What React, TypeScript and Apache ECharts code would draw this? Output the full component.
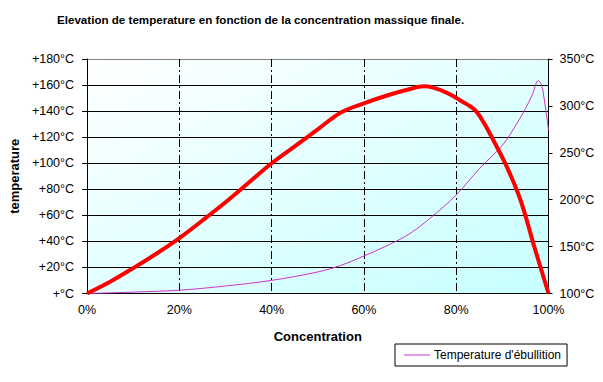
import React, { useEffect, useRef } from "react";
import * as echarts from "echarts";

const titleText = "Elevation de temperature en fonction de la concentration massique finale.";
const concRise = [0, 5, 10, 15, 20, 25, 30, 35, 40, 45, 50, 55, 60, 65, 70, 73, 75, 78, 81, 84, 86, 88, 91, 94, 97, 100];
const tempRise = [0, 9, 19.5, 30.5, 42.5, 56, 70, 85, 100, 113, 126, 139, 146, 152, 157, 159, 158, 154, 148, 141, 131, 118, 97, 71, 35, 0];
const concBoil = [0, 10, 20, 30, 40, 50, 55, 60, 65, 70, 75, 80, 85, 90, 93, 95, 96.5, 97.8, 98.5, 99.2, 100];
const boilTemp = [100, 101.5, 103.5, 108, 114, 123, 130, 140, 151, 164, 183, 205, 233, 258, 280, 297, 312, 327, 322, 303, 274];
const boilName = "Temperature d'ébullition";

const FONT = "'Liberation Sans', Arial, sans-serif";

export default function App() {
  const ref = useRef<HTMLDivElement>(null);
  useEffect(() => {
    if (!ref.current) return;
    const chart = echarts.init(ref.current, undefined, { renderer: "svg" });
    const gridLineColors = ["#000", "#000", "#000", "#000", "#000", "#000", "#000", "#000", "#000", "#808080"];
    chart.setOption({
      animation: false,
      textStyle: { fontFamily: FONT },
      graphic: [
        {
          type: "text",
          left: 57,
          top: 13,
          style: { text: titleText, font: `bold 11.6px ${FONT}`, fill: "#000" },
        },
      ],
      legend: {
        left: 395,
        top: 344,
        data: [boilName],
        icon: "rect",
        itemWidth: 26,
        itemHeight: 1,
        itemGap: 4,
        padding: [5, 6, 5, 9],
        borderColor: "#000",
        borderWidth: 1,
        textStyle: { fontFamily: FONT, fontSize: 12, color: "#000", padding: [0, 0, 0, -1] },
      },
      grid: {
        left: 85,
        top: 59,
        width: 463.5,
        height: 234.5,
        show: true,
        borderWidth: 0,
        backgroundColor: new echarts.graphic.LinearGradient(0, 0, 1, 1, [
          { offset: 0, color: "#ffffff" },
          { offset: 1, color: "#c6ffff" },
        ]),
      },
      xAxis: {
        type: "value",
        min: 0,
        max: 100,
        interval: 20,
        name: "Concentration",
        nameLocation: "middle",
        nameGap: 36,
        nameTextStyle: { fontFamily: FONT, fontSize: 13, fontWeight: "bold", color: "#000" },
        axisLine: { show: true, lineStyle: { color: "#000", width: 1 } },
        axisTick: { show: false },
        axisLabel: { formatter: (v: number) => `${v}%`, fontSize: 12.5, color: "#000", margin: 10, fontFamily: FONT },
        splitLine: { show: true, lineStyle: { color: "#000", width: 1, type: [8, 3, 2, 3] } },
      },
      yAxis: [
        {
          type: "value",
          min: 0,
          max: 180,
          interval: 20,
          position: "left",
          name: "temperature",
          nameLocation: "middle",
          nameGap: 60,
          nameTextStyle: { fontFamily: FONT, fontSize: 13, fontWeight: "bold", color: "#000" },
          axisLine: { show: true, lineStyle: { color: "#000", width: 1 } },
          axisTick: { show: true, length: 5, lineStyle: { color: "#000" } },
          axisLabel: {
            formatter: (v: number) => (v === 0 ? "+°C" : `+${v}°C`),
            fontSize: 12.5,
            color: "#000",
            margin: 13,
            fontFamily: FONT,
          },
          splitLine: { show: true, lineStyle: { color: gridLineColors, width: 1 } },
        },
        {
          type: "value",
          min: 100,
          max: 350,
          interval: 50,
          position: "right",
          axisLine: { show: true, lineStyle: { color: "#000", width: 1 } },
          axisTick: { show: true, length: 4, lineStyle: { color: "#000" } },
          axisLabel: { formatter: (v: number) => `${v}°C`, fontSize: 12.5, color: "#000", margin: 11, fontFamily: FONT },
          splitLine: { show: false },
        },
      ],
      series: [
        {
          name: "Elevation",
          type: "line",
          yAxisIndex: 0,
          data: concRise.map((c, i) => [c, tempRise[i]]),
          showSymbol: false,
          symbol: "none",
          smooth: 0.35,
          lineStyle: { color: "#ff0000", width: 4 },
          itemStyle: { color: "#ff0000" },
          z: 3,
        },
        {
          name: boilName,
          type: "line",
          yAxisIndex: 1,
          data: concBoil.map((c, i) => [c, boilTemp[i]]),
          showSymbol: false,
          symbol: "none",
          smooth: 0.35,
          lineStyle: { color: "#cc33cc", width: 1 },
          itemStyle: { color: "#cc33cc" },
          z: 2,
        },
      ],
    });
    return () => chart.dispose();
  }, []);
  return <div ref={ref} style={{ width: 603, height: 382, position: "absolute", left: 0, top: 0 }} />;
}
